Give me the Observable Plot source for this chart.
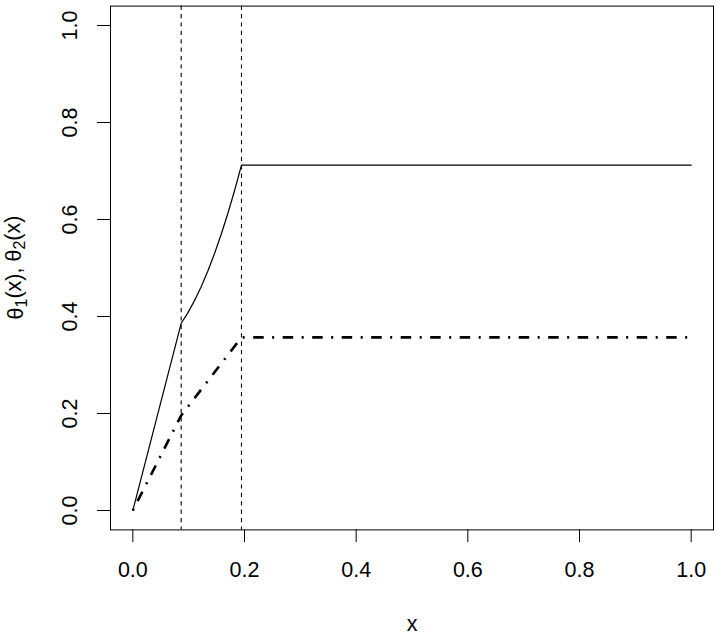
<!DOCTYPE html>
<html><head><meta charset="utf-8">
<script src="https://cdn.jsdelivr.net/npm/d3@7"></script>
<script src="https://cdn.jsdelivr.net/npm/@observablehq/plot@0.6"></script>
<style>body{margin:0;background:#fff}</style>
</head><body><div id="chart"></div>
<script>
const xTicks = [0, 0.2, 0.4, 0.6, 0.8, 1.0];
const yTicks = [0, 0.2, 0.4, 0.6, 0.8, 1.0];
const breakpoints = [0.0866, 0.1946];
const theta1X = [0, 0.0866, 0.098, 0.110, 0.122, 0.134, 0.146, 0.158, 0.170, 0.182, 0.1946, 1.0];
const theta1Y = [0, 0.386, 0.4065, 0.4317, 0.4605, 0.4929, 0.5289, 0.5686, 0.6119, 0.6588, 0.712, 0.712];
const theta2X = [0, 0.0866, 0.1946, 1.0];
const theta2Y = [0, 0.196, 0.357, 0.357];
const xLabel = "x";
const yLabelParts = [["θ", "1"], ["(x), θ", "2"], ["(x)", null]];

const theta1 = theta1X.map((x, i) => ({x, y: theta1Y[i]}));
const theta2 = theta2X.map((x, i) => ({x, y: theta2Y[i]}));
const font = "'Liberation Sans', Arial, Helvetica, sans-serif";

const W = 718, H = 639;
const mL = 110, mR = 5, mT = 5.6, mB = 109.6;
const fs = 21.5;

const chart = Plot.plot({
  width: W, height: H,
  marginLeft: mL, marginRight: mR, marginTop: mT, marginBottom: mB,
  style: {fontFamily: font, color: "black", background: "white"},
  x: {domain: [-0.04, 1.04]},
  y: {domain: [-0.04, 1.04]},
  marks: [
    Plot.ruleX(breakpoints, {stroke: "black", strokeWidth: 1.1, strokeDasharray: "4.2,4.2"}),
    Plot.line(theta1, {x: "x", y: "y", stroke: "black", strokeWidth: 1.2}),
    Plot.line(theta2, {x: "x", y: "y", stroke: "black", strokeWidth: 2.6, strokeDasharray: "2,8.5,10.5,8.5", strokeLinecap: "butt"}),
    Plot.frame({stroke: "black", strokeWidth: 1}),
    Plot.axisX({ticks: xTicks, tickSize: 12.7, tickPadding: 19.3, fontSize: fs, tickFormat: d => d.toFixed(1), label: null, stroke: "black"}),
    Plot.axisY({ticks: yTicks, tickSize: 13, tickFormat: () => "", label: null, stroke: "black"}),
    Plot.text(yTicks, {y: d => d, text: d => d.toFixed(1), frameAnchor: "left", dx: -33.3, rotate: -90, fontSize: fs, textAnchor: "middle", lineAnchor: "bottom", fill: "black"}),
    Plot.text([xLabel], {frameAnchor: "bottom", dy: 100.6, fontSize: fs, lineAnchor: "bottom", textAnchor: "middle", fill: "black"})
  ]
});
document.getElementById("chart").appendChild(chart);

// y-axis label with subscripts
const svg = d3.select(chart);
const cy = mT + (H - mT - mB) / 2;
const t = svg.append("text")
  .attr("transform", `translate(22.7,${cy}) rotate(-90)`)
  .attr("text-anchor", "middle")
  .attr("font-size", fs)
  .attr("font-family", font)
  .attr("fill", "black");
yLabelParts.forEach(([main, sub], i) => {
  t.append("tspan").attr("dy", i === 0 ? 0 : "-0.25em").text(main);
  if (sub) t.append("tspan").attr("font-size", 16).attr("dy", "0.25em").text(sub);
});
</script>
</body></html>
